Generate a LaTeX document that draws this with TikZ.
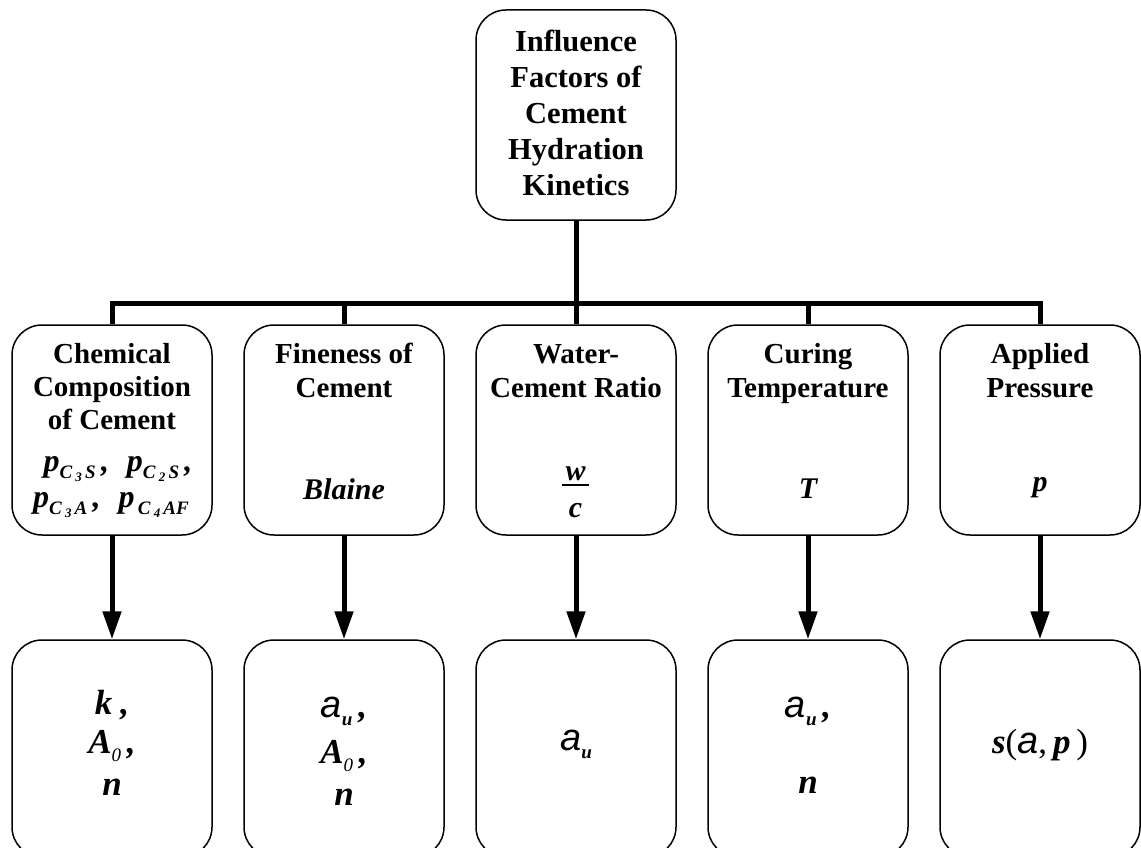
\documentclass[tikz,border=0pt]{standalone}
\usepackage{fontspec}
\setmainfont{Liberation Serif}
\newfontfamily\asf{Liberation Sans}
\usetikzlibrary{arrows.meta}
\newcommand{\subA}[1]{\raisebox{-7pt}{\fontsize{19}{19}\selectfont #1}}
\newcommand{\subB}[1]{\raisebox{-3pt}{\fontsize{13}{13}\selectfont #1}}
\newcommand{\alf}{{\fontsize{38}{40}\asf\itshape\mdseries a}}
\newcommand{\lsub}[1]{\raisebox{-8pt}{\fontsize{19}{19}\selectfont #1}}
\begin{document}
\begin{tikzpicture}[x=1pt,y=-1pt,
 box/.style={draw, line width=1.5pt, rounded corners=30pt, minimum width=200pt, inner sep=0pt},
 topbox/.style={box, minimum height=210pt},
 mid/.style={box, minimum height=210pt},
 bot/.style={box, minimum height=217pt},
 ttl/.style={font=\fontsize{29}{34}\selectfont\bfseries, anchor=base, inner sep=0pt},
 tttl/.style={font=\fontsize{30.5}{36}\selectfont\bfseries, anchor=base, inner sep=0pt},
 sym/.style={font=\fontsize{30}{34}\selectfont\bfseries\itshape, anchor=base, inner sep=0pt},
 psym/.style={font=\fontsize{32}{34}\selectfont\bfseries\itshape, anchor=base, inner sep=0pt},
 big/.style={font=\fontsize{35}{40}\selectfont\bfseries\itshape, anchor=base, inner sep=0pt},
 wire/.style={line width=5pt},
 arr/.style={line width=5pt, -{Triangle[length=28pt,width=18pt]}}]
\useasboundingbox (0,0) rectangle (1141,848);
% boxes
\node[topbox] (top) at (576,115) {};
\foreach \x [count=\i] in {112,344,576,808,1040}{
  \node[mid] (m\i) at (\x,430) {};
  \node[bot] (b\i) at (\x,748.5) {};
}
% top title
\foreach \t [count=\i] in {Influence,Factors of,Cement,Hydration,Kinetics}
  \node[tttl] (tt\i) at (576,{52+36*(\i-1)}) {\t};
% middle titles
\node[ttl] (c1) at (112,363) {Chemical};
\node[ttl] (c2) at (112,396) {Composition};
\node[ttl] (c3) at (112,429) {of Cement};
\node[psym] (c4) at (118,471) {p\subA{C\,\subB{3}\,S}\,,\hspace{18pt}p\subA{C\,\subB{2}\,S}\,,};
\node[psym] (c5) at (111,507) {p\subA{C\,\subB{3}\,A}\,,\hspace{18pt}p\subA{\,C\,\subB{4}\,AF}};
\node[ttl] (f1) at (344,363) {Fineness of};
\node[ttl] (f2) at (344,397) {Cement};
\node[sym] (f3) at (344,499) {Blaine};
\node[ttl] (w1) at (576,363) {Water-};
\node[ttl] (w2) at (576,397) {Cement Ratio};
\node[sym] (w3) at (575.5,480) {w};
\node[sym] (w4) at (575.5,517) {c};
\draw[line width=1.2pt] (562,485) -- (589,485);
\node[ttl] (t1) at (808,363) {Curing};
\node[ttl] (t2) at (808,397) {Temperature};
\node[sym] (t3) at (808,498) {T};
\node[ttl] (p1) at (1040,363) {Applied};
\node[ttl] (p2) at (1040,397) {Pressure};
\node[sym] (p3) at (1040,491) {p};
% bottom contents
\node[big] (k1) at (112,714) {k\hspace{8pt},};
\node[big] (k2) at (112,753) {A\lsub{\mdseries 0}\,,};
\node[big] (k3) at (112,795) {n};
\node[big] (l1) at (344,717) {\alf\lsub{u}\,,};
\node[big] (l2) at (344,763) {A\lsub{\mdseries 0}\,,};
\node[big] (l3) at (344,805) {n};
\node[big] (r1) at (576,750) {\alf\lsub{u}};
\node[big] (s1) at (808,717) {\alf\lsub{u}\,,};
\node[big] (s2) at (808,793) {n};
\node[big] (q1) at (1040,753) {s{\mdseries\upshape(}\alf{\mdseries\upshape,\,}p{\mdseries\upshape\,)}};
% connectors
\coordinate (busc) at (576,303);
\draw[wire] (top.south) -- (top.south |- busc);
\draw[wire, line join=miter] (m1.north) |- (busc) -| (m5.north);
\foreach \i in {2,3,4} \draw[wire] (m\i.north) -- (m\i.north |- busc);
\foreach \i in {1,...,5} \draw[arr] (m\i.south) -- (b\i.north);
\end{tikzpicture}
\end{document}
